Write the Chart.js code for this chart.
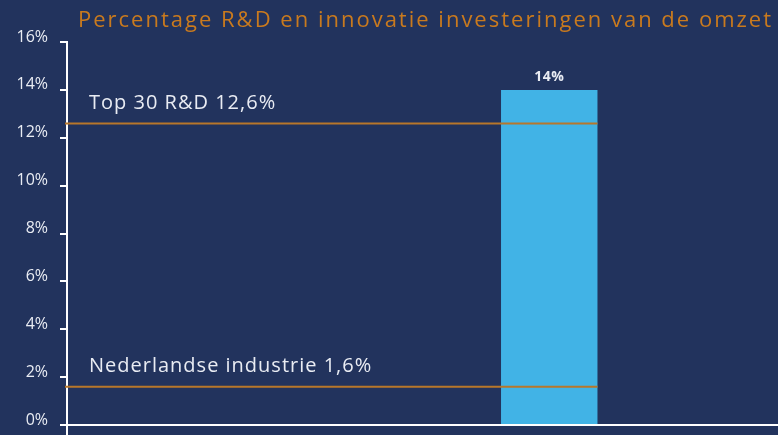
<!DOCTYPE html>
<html>
<head>
<meta charset="utf-8">
<script src="https://cdn.jsdelivr.net/npm/chart.js@4.4.0/dist/chart.umd.min.js"></script>
<style>
  html, body { margin: 0; padding: 0; background: #22335d; }
  #wrap { position: relative; width: 778px; height: 435px; overflow: hidden; background: #22335d; }
  #title {
    position: absolute; left: 78px; top: 3px; white-space: nowrap;
    font-family: 'Open Sans', sans-serif; font-size: 22px; letter-spacing: 2px; color: #c97a1e;
  }
  canvas { position: absolute; left: 0; top: 0; }
</style>
</head>
<body>
<div id="wrap">
  <canvas id="chart" width="778" height="435"></canvas>
  <div id="title">Percentage R&amp;D en innovatie investeringen van de omzet</div>
</div>
<script>
// Bar data
const categories = ['Nederlandse industrie', 'Top 30 R&D'];
const barValues = [null, 14];

// Benchmark lines
const benchmarkNames = ['Top 30 R&D', 'Nederlandse industrie'];
const benchmarkValues = [12.6, 1.6];

// Y axis
const yMin = 0;
const yMax = 16;
const yStep = 2;

const textColor = '#e9ecf3';
const lineColor = '#b8772a';

function pct(v) {
    return v.toString().replace('.', ',') + '%';
}

// Draws the benchmark lines, their labels, the bar label and the axis extensions
const overlayPlugin = {
    id: 'overlay',
    afterDatasetsDraw(chart) {
        const ctx = chart.ctx;
        const y = chart.scales.y;
        const area = chart.chartArea;
        const bar = chart.getDatasetMeta(0).data[1];
        const barRight = bar.x + bar.width / 2;

        ctx.save();

        // axis lines running out to the canvas edges
        const zeroY = y.getPixelForValue(0);
        ctx.strokeStyle = '#ffffff';
        ctx.lineWidth = 2;
        ctx.beginPath();
        ctx.moveTo(area.left - 7, zeroY);
        ctx.lineTo(chart.width, zeroY);
        ctx.moveTo(area.left, area.bottom);
        ctx.lineTo(area.left, chart.height);
        ctx.stroke();

        // benchmark lines
        ctx.strokeStyle = lineColor;
        ctx.lineWidth = 2;
        benchmarkValues.forEach((v, i) => {
            const py = y.getPixelForValue(v);
            ctx.beginPath();
            ctx.moveTo(area.left - 2, py);
            ctx.lineTo(barRight, py);
            ctx.stroke();

            ctx.fillStyle = textColor;
            ctx.font = '20px "Open Sans"';
            ctx.letterSpacing = '1px';
            ctx.textAlign = 'left';
            ctx.textBaseline = 'middle';
            ctx.fillText(benchmarkNames[i] + ' ' + pct(v), area.left + 22, py - 20);
        });

        // value above the bar
        ctx.fillStyle = textColor;
        ctx.font = 'bold 14px "Open Sans"';
        ctx.letterSpacing = '0.5px';
        ctx.textAlign = 'center';
        ctx.textBaseline = 'middle';
        ctx.fillText(barValues[1] + '%', bar.x, bar.y - 13);

        ctx.restore();
    }
};

const ctx = document.getElementById('chart').getContext('2d');
new Chart(ctx, {
    type: 'bar',
    data: {
        labels: categories,
        datasets: [{
            data: barValues,
            backgroundColor: '#41b3e6',
            borderWidth: 0,
            categoryPercentage: 0.6,
            barPercentage: 0.5
        }]
    },
    options: {
        responsive: false,
        animation: false,
        layout: {
            padding: { top: 42, right: 68, bottom: 10, left: 0 }
        },
        plugins: {
            legend: { display: false },
            title: { display: false },
            tooltip: { enabled: false }
        },
        scales: {
            x: {
                display: false
            },
            y: {
                min: yMin,
                max: yMax,
                afterFit: (scale) => {
                    scale.width = 67;
                    scale.paddingTop = 0;
                    scale.paddingBottom = 0;
                },
                ticks: {
                    stepSize: yStep,
                    color: textColor,
                    font: { family: 'Open Sans', size: 16 },
                    padding: 12,
                    labelOffset: -5,
                    callback: (v) => v + '%'
                },
                grid: {
                    drawOnChartArea: false,
                    color: '#ffffff',
                    lineWidth: 2,
                    tickLength: 7
                },
                border: {
                    color: '#ffffff',
                    width: 2
                }
            }
        }
    },
    plugins: [overlayPlugin]
});
</script>
</body>
</html>
